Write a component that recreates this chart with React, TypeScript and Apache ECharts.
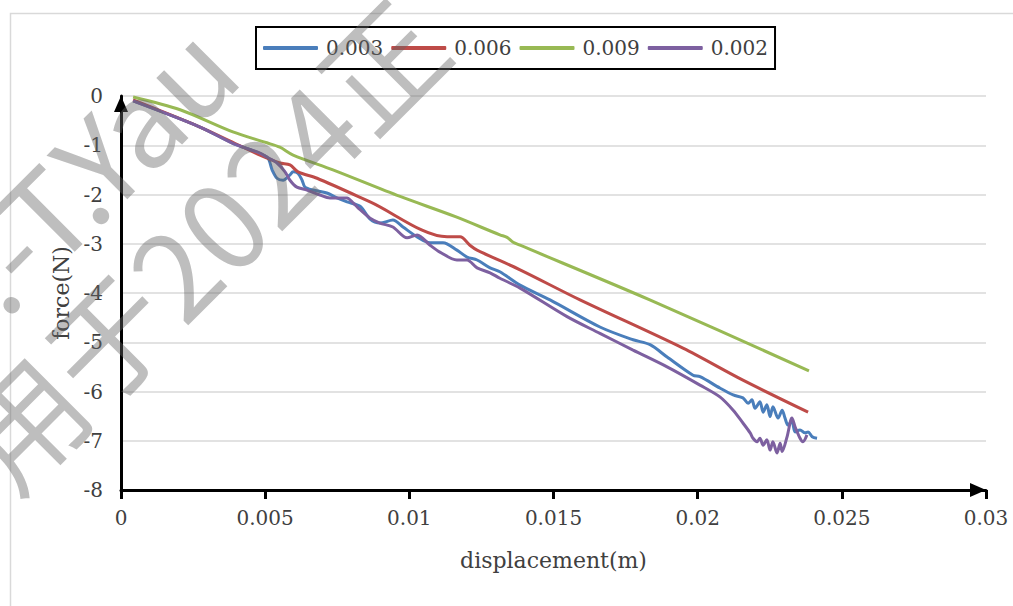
import React, { useEffect, useRef } from "react";
import * as echarts from "echarts";

const seriesNames = ["0.003", "0.006", "0.009", "0.002"];
const seriesColors = ["#4a7ebb", "#be4b48", "#98b954", "#7d60a0"];

const disp003 = [0.00042, 0.00274, 0.00388, 0.00506, 0.00524, 0.00541, 0.00562, 0.00586, 0.00597, 0.00614, 0.00628, 0.00638, 0.00666, 0.00714, 0.00749, 0.00784, 0.00829, 0.00864, 0.00898, 0.00943, 0.00978, 0.01027, 0.01072, 0.01117, 0.01165, 0.01200, 0.01235, 0.01280, 0.01314, 0.01384, 0.01488, 0.01661, 0.01776, 0.01835, 0.01894, 0.01984, 0.02008, 0.02077, 0.02123, 0.02157, 0.02175, 0.02188, 0.02199, 0.02216, 0.02227, 0.02240, 0.02251, 0.02261, 0.02279, 0.02293, 0.02303, 0.02313, 0.02327, 0.02338, 0.02355, 0.02372, 0.02383, 0.02397, 0.02414];
const force003 = [-0.10, -0.63, -0.96, -1.24, -1.50, -1.67, -1.71, -1.60, -1.54, -1.57, -1.71, -1.85, -1.91, -1.97, -2.07, -2.15, -2.24, -2.50, -2.58, -2.52, -2.66, -2.86, -2.98, -2.98, -3.13, -3.27, -3.33, -3.49, -3.57, -3.84, -4.14, -4.69, -4.95, -5.05, -5.30, -5.67, -5.70, -5.93, -6.07, -6.13, -6.24, -6.17, -6.34, -6.21, -6.42, -6.27, -6.51, -6.31, -6.54, -6.38, -6.54, -6.68, -6.61, -6.82, -6.78, -6.84, -6.82, -6.92, -6.95];

const disp006 = [0.00042, 0.00274, 0.00413, 0.00482, 0.00551, 0.00586, 0.00614, 0.00680, 0.00864, 0.01131, 0.01176, 0.01210, 0.01235, 0.01384, 0.01592, 0.01949, 0.02157, 0.02383];
const force006 = [-0.08, -0.63, -1.01, -1.20, -1.36, -1.40, -1.54, -1.67, -2.15, -2.86, -2.86, -3.03, -3.13, -3.53, -4.14, -5.12, -5.77, -6.42];

const disp009 = [0.00042, 0.00205, 0.00388, 0.00506, 0.00551, 0.00597, 0.00735, 0.00968, 0.01160, 0.01314, 0.01339, 0.01360, 0.01384, 0.01834, 0.02386];
const force009 = [-0.02, -0.28, -0.73, -0.95, -1.04, -1.20, -1.50, -2.04, -2.45, -2.82, -2.87, -2.97, -3.03, -4.14, -5.58];

const disp002 = [0.00042, 0.00274, 0.00388, 0.00482, 0.00506, 0.00541, 0.00569, 0.00586, 0.00610, 0.00645, 0.00690, 0.00725, 0.00760, 0.00784, 0.00805, 0.00822, 0.00864, 0.00898, 0.00943, 0.00992, 0.01027, 0.01072, 0.01106, 0.01165, 0.01200, 0.01235, 0.01280, 0.01314, 0.01384, 0.01547, 0.01661, 0.01776, 0.01894, 0.02008, 0.02077, 0.02123, 0.02157, 0.02182, 0.02192, 0.02206, 0.02216, 0.02227, 0.02240, 0.02251, 0.02261, 0.02275, 0.02286, 0.02293, 0.02310, 0.02327, 0.02338, 0.02355, 0.02365, 0.02379];
const force002 = [-0.10, -0.63, -0.96, -1.16, -1.24, -1.36, -1.54, -1.71, -1.85, -1.91, -2.01, -2.07, -2.07, -2.07, -2.17, -2.27, -2.48, -2.58, -2.66, -2.88, -2.82, -3.03, -3.17, -3.33, -3.33, -3.49, -3.59, -3.70, -3.90, -4.48, -4.82, -5.16, -5.50, -5.87, -6.11, -6.38, -6.64, -6.84, -6.95, -7.02, -6.95, -7.09, -6.98, -7.19, -7.02, -7.25, -7.05, -7.22, -6.92, -6.54, -6.72, -6.95, -7.02, -6.88];

const xAxisTitle = "displacement(m)";
const yAxisTitle = "force(N)";
const watermarkLine1 = ":-T.Yau";
const watermarkLine2 = "用于2024正";

const zip = (xs: number[], ys: number[]) => xs.map((x, i) => [x, ys[i]]);

const FONT = "DejaVu Serif";
const TEXT_COLOR = "#404040";

export default function App() {
  const ref = useRef<HTMLDivElement>(null);

  useEffect(() => {
    const chart = echarts.init(ref.current!, null, { renderer: "svg" });
    const datasets = [
      zip(disp003, force003),
      zip(disp006, force006),
      zip(disp009, force009),
      zip(disp002, force002),
    ];
    const option: any = {
      animation: false,
      backgroundColor: "#ffffff",
      textStyle: { fontFamily: FONT },
      grid: { left: 121, right: 27, top: 96, bottom: 116, containLabel: false },
      legend: {
        left: 256,
        top: 27,
        orient: "horizontal",
        padding: [11, 7, 11, 7],
        itemGap: 8,
        itemWidth: 55,
        itemHeight: 4,
        icon: "roundRect",
        borderColor: "#000",
        borderWidth: 2,
        textStyle: { fontSize: 20, color: TEXT_COLOR, fontFamily: FONT, padding: [0, 0, 0, 3] },
        data: seriesNames,
      },
      xAxis: {
        type: "value",
        min: 0,
        max: 0.03,
        interval: 0.005,
        name: xAxisTitle,
        nameLocation: "middle",
        nameGap: 59,
        nameTextStyle: { fontSize: 22, color: TEXT_COLOR, fontFamily: FONT },
        axisLine: {
          show: true,
          onZero: false,
          lineStyle: { color: "#000", width: 3 },
          symbol: ["none", "triangle"],
          symbolSize: [14, 16],
          symbolOffset: [0, -8],
        },
        axisTick: { show: true, length: 9, lineStyle: { color: "#000", width: 3 } },
        axisLabel: { fontSize: 20, color: TEXT_COLOR, margin: 18, fontFamily: FONT },
        splitLine: { show: false },
      },
      yAxis: {
        type: "value",
        min: -8,
        max: 0,
        interval: 1,
        name: yAxisTitle,
        nameLocation: "middle",
        nameGap: 48,
        nameTextStyle: { fontSize: 22, color: TEXT_COLOR, fontFamily: FONT },
        axisLine: {
          show: true,
          onZero: false,
          lineStyle: { color: "#000", width: 3 },
          symbol: ["none", "triangle"],
          symbolSize: [14, 16],
          symbolOffset: [0, -8],
        },
        axisTick: { show: false },
        axisLabel: { fontSize: 20, color: TEXT_COLOR, margin: 18, fontFamily: FONT },
        splitLine: { show: true, lineStyle: { color: "#d9d9d9", width: 1.5 } },
      },
      series: seriesNames.map((name, i) => ({
        name,
        type: "line",
        data: datasets[i],
        showSymbol: false,
        smooth: 0.3,
        lineStyle: { width: 3, color: seriesColors[i] },
        itemStyle: { color: seriesColors[i] },
      })),
      graphic: [
        {
          type: "rect",
          left: 8,
          top: 11,
          z: -1,
          shape: { width: 1100, height: 700 },
          style: { fill: "none", stroke: "#d9d9d9", lineWidth: 1.5 },
        },
        {
          type: "text",
          x: -32,
          y: 285,
          rotation: Math.PI / 4,
          z: 100,
          silent: true,
          style: {
            text: watermarkLine1,
            fontSize: 120,
            fontFamily: "Noto Sans CJK SC",
            fill: "rgba(100,100,100,0.42)",
            align: "left",
            verticalAlign: "middle",
          },
        },
        {
          type: "text",
          x: -22,
          y: 462,
          rotation: Math.PI / 4,
          z: 100,
          silent: true,
          style: {
            text: watermarkLine2,
            fontSize: 120,
            fontFamily: "Noto Sans CJK SC",
            fill: "rgba(100,100,100,0.42)",
            align: "left",
            verticalAlign: "middle",
          },
        },
      ],
    };
    chart.setOption(option);
    return () => chart.dispose();
  }, []);

  return (
    <div
      ref={ref}
      style={{ position: "fixed", left: 0, top: 0, width: 1013, height: 606, background: "#fff" }}
    />
  );
}
